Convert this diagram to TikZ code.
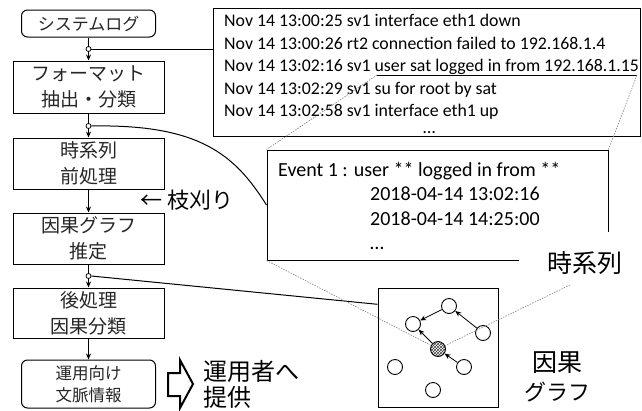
\documentclass[tikz,border=0pt]{standalone}
\usepackage{fontspec}
\setmainfont{Carlito}
\newfontfamily\jp{Noto Sans CJK JP}
\usetikzlibrary{arrows.meta,patterns,calc}
\begin{document}
\begin{tikzpicture}[x=1pt,y=-1pt,
  flowbox/.style={draw,line width=1pt,minimum width=151pt,inner sep=0pt,align=center,
    font={\jp\fontsize{19}{26}\selectfont},text=black!85},
  rbox/.style={flowbox,rounded corners=6pt,minimum width=134pt},
  tap/.style={circle,draw,fill=white,inner sep=0pt,minimum size=5pt,line width=0.8pt},
  conn/.style={line width=1pt},
  arr/.style={line width=1pt,-{Stealth[length=6pt,width=5pt]}},
  logtxt/.style={anchor=base west,inner sep=0pt,font={\fontsize{17.8}{22}\selectfont}},
  evtxt/.style={anchor=base west,inner sep=0pt,font={\fontsize{20}{24}\selectfont}},
  gn/.style={circle,draw,fill=white,inner sep=0pt,minimum size=15pt,line width=0.9pt},
  garr/.style={line width=0.8pt,-{Stealth[length=6pt,width=5pt]}},
  dotline/.style={gray,line width=0.6pt,dash pattern=on 1.5pt off 1.2pt},
  big/.style={inner sep=0pt,font={\jp\fontsize{24}{28}\selectfont}}
]
\useasboundingbox (0,0) rectangle (642,410);

% left flow
\node[rbox,minimum height=27pt,font={\jp\fontsize{17}{20}\selectfont}] (sys) at (88.5,23.5) {システムログ};
\node[flowbox,minimum height=52pt] (fmt) at (88.5,87) {フォーマット\\抽出・分類};
\node[flowbox,minimum height=51pt] (pre) at (88.5,163.5) {時系列\\前処理};
\node[flowbox,minimum height=51pt] (est) at (88.5,238.5) {因果グラフ\\推定};
\node[flowbox,minimum height=50pt] (post) at (88.5,313) {後処理\\因果分類};
\node[rbox,minimum height=48pt,font={\jp\fontsize{16.5}{22}\selectfont}] (ctx) at (88.5,384) {運用向け\\文脈情報};

\node[tap] (c1) at (88.5,49) {};
\node[tap] (c2) at (88.5,126) {};
\node[tap] (c3) at (88.5,276) {};

\draw[conn] (sys) -- (c1);
\draw[arr] (c1) -- (fmt);
\draw[conn] (fmt) -- (c2);
\draw[arr] (c2) -- (pre);
\draw[arr] (pre) -- (est);
\draw[conn] (est) -- (c3);
\draw[arr] (c3) -- (post);
\draw[arr] (post) -- (ctx);

% log box
\node[draw,line width=1pt,minimum width=427pt,minimum height=128pt,inner sep=0pt] (log) at (426.5,72) {};
\node[logtxt] (l1) at (224,26.5) {Nov 14 13:00:25 sv1 interface eth1 down};
\node[logtxt] (l2) at (224,49) {Nov 14 13:00:26 rt2 connection failed to 192.168.1.4};
\node[logtxt] (l3) at (224,71.5) {Nov 14 13:02:16 sv1 user sat logged in from 192.168.1.15};
\node[logtxt] (l4) at (224,94) {Nov 14 13:02:29 sv1 su for root by sat};
\node[logtxt] (l5) at (224,116.5) {Nov 14 13:02:58 sv1 interface eth1 up};
\node[logtxt] (l6) at (423,133) {…};
\coordinate (u1) at (377,75);
\coordinate (u2) at (637,75);
\draw[line width=1pt] (u1) -- (u2);
\draw[conn] (c1) -- (c1 -| log.west);

% event box
\node[draw,line width=1pt,minimum width=341pt,minimum height=110pt,inner sep=0pt] (ev) at (437.5,205) {};
\node[evtxt] (e1) at (278,176) {Event 1 : user ** logged in from **};
\node[evtxt] (e2) at (370,200.5) {2018-04-14 13:02:16};
\node[evtxt] (e3) at (370,225) {2018-04-14 14:25:00};
\node[evtxt] (e4) at (370,249) {…};
\draw[conn] (c2.east) .. controls (200,124) and (235,155) .. (ev.west);

% graph box
\node[draw,line width=1pt,minimum width=120pt,minimum height=119pt,inner sep=0pt] (gbox) at (438,347.5) {};
\draw[conn] (c3.east) -- ($(gbox.north west)!0.14!(gbox.south west)$);

% dotted guides
\draw[dotline] (u1) -- (ev.north west);
\draw[dotline] (u2) -- (ev.north east);

\node[gn] (A) at (449,306) {};
\node[gn] (B) at (413,324) {};
\node[gn] (C) at (483,333) {};
\node[gn,pattern=crosshatch,pattern color=black!75] (D) at (438,349) {};
\node[gn] (E) at (464,367) {};
\node[gn] (F) at (395,367) {};
\node[gn] (G) at (433,390) {};
\draw[garr] (A) -- (B);
\draw[garr] (C) -- (A);
\draw[garr] (D) -- (B);
\draw[garr] (E) -- (D);

\draw[dotline] (ev.south west) -- (D);
\coordinate (ts) at (570,285);
\draw[dotline] (ts) -- (D);

% labels
\fill[white] (519,232) rectangle (642,276);
\node[big,font={\jp\fontsize{25}{28}\selectfont}] (tsl) at (585,263) {時系列};
\node[big,font={\jp\fontsize{25}{28}\selectfont}] (ga) at (557,363) {因果};
\node[big,font={\jp\fontsize{22}{26}\selectfont}] (gb) at (557,392) {グラフ};
\node[big,anchor=west,font={\jp\fontsize{22}{26}\selectfont}] (prune) at (140,200) {← 枝刈り};

% block arrow and output text
\draw[line width=2pt,line join=miter] (168,373) -- (180,373) -- (180,360) -- (193,384) -- (180,408) -- (180,396) -- (168,396) -- cycle;
\node[big,anchor=west] (op1) at (203,371) {運用者へ};
\node[big,anchor=west] (op2) at (203,397) {提供};
\end{tikzpicture}
\end{document}
